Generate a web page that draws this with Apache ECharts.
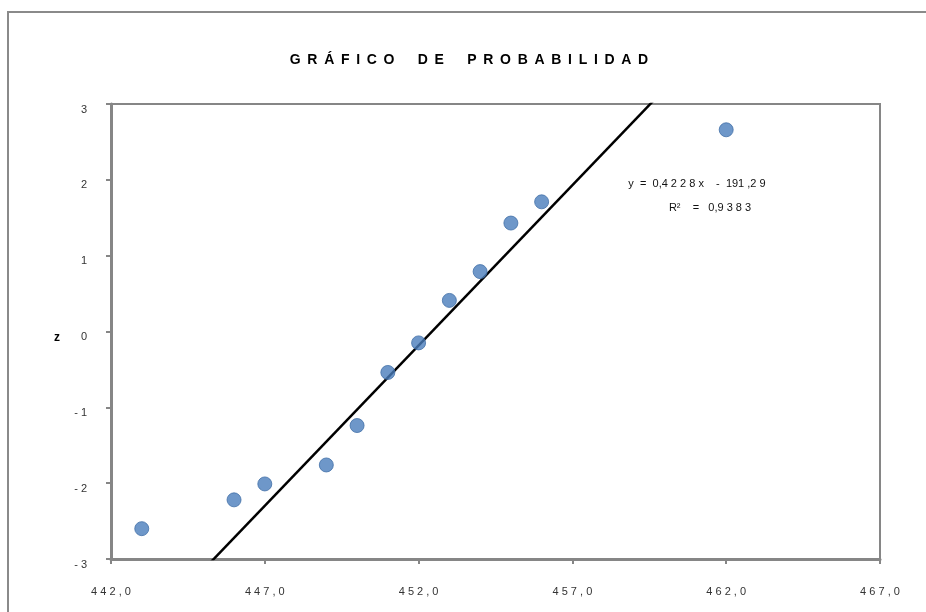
<!DOCTYPE html>
<html>
<head>
<meta charset="utf-8">
<script src="https://cdn.jsdelivr.net/npm/echarts@6/dist/echarts.min.js"></script>
<style>
html,body{margin:0;padding:0;background:#fff;}
#chart{width:926px;height:612px;}
</style>
</head>
<body>
<div id="chart"></div>
<script>
// Data
const xValues = [443.0, 446.0, 447.0, 449.0, 450.0, 451.0, 452.0, 453.0, 454.0, 455.0, 456.0, 462.0];
const zValues = [-2.60, -2.22, -2.01, -1.76, -1.24, -0.54, -0.15, 0.41, 0.79, 1.43, 1.71, 2.66];
const xTickValues = [442, 447, 452, 457, 462, 467];
const xTickLabels = ['4 4 2 , 0', '4 4 7 , 0', '4 5 2 , 0', '4 5 7 , 0', '4 6 2 , 0', '4 6 7 , 0'];
const yTickLabels = {'3': '3', '2': '2', '1': '1', '0': '0', '-1': '- 1', '-2': '- 2', '-3': '- 3'};
const trendSlope = 0.4228;
const trendIntercept = -191.29;
const trendXRange = [443.0, 462.0];

const points = xValues.map((x, i) => [x, zValues[i]]);
const trendData = trendXRange.map(x => [x, trendSlope * x + trendIntercept]);
const labelMap = {};
xTickValues.forEach((v, i) => { labelMap[v] = xTickLabels[i]; });

const chart = echarts.init(document.getElementById('chart'), null, {renderer: 'canvas'});
const axisGray = '#868686';
const font = '"Liberation Sans", "DejaVu Sans", sans-serif';
const sp = ' \u2009';
const titleText = ['GRÁFICO', 'DE', 'PROBABILIDAD'].map(w => w.split('').join(sp)).join('      ');

chart.setOption({
  animation: false,
  backgroundColor: '#ffffff',
  title: {
    text: titleText,
    left: 464,
    top: 48,
    textAlign: 'center',
    textStyle: {fontFamily: font, fontSize: 14, fontWeight: 'bold', color: '#000'}
  },
  grid: {
    left: 111, top: 104, right: 46, bottom: 53,
    show: true, borderColor: axisGray, borderWidth: 2, backgroundColor: 'transparent'
  },
  xAxis: {
    type: 'value',
    min: 442, max: 467,
    axisLine: {show: true, onZero: false, lineStyle: {color: axisGray, width: 3}},
    axisTick: {show: true, length: 5, customValues: xTickValues, lineStyle: {color: axisGray, width: 2}},
    axisLabel: {
      customValues: xTickValues,
      margin: 27,
      fontFamily: font, fontSize: 11, color: '#333',
      formatter: v => labelMap[v] !== undefined ? labelMap[v] : ''
    },
    splitLine: {show: false}
  },
  yAxis: {
    type: 'value',
    min: -3, max: 3, interval: 1,
    name: 'z',
    nameLocation: 'middle',
    nameRotate: 0,
    nameGap: 51,
    nameTextStyle: {fontFamily: font, fontSize: 12, fontWeight: 'bold', color: '#000', verticalAlign: 'top'},
    axisLine: {show: true, onZero: false, lineStyle: {color: axisGray, width: 3}},
    axisTick: {show: true, length: 5, lineStyle: {color: axisGray, width: 2}},
    axisLabel: {
      margin: 24,
      verticalAlign: 'top',
      fontFamily: font, fontSize: 11, color: '#333',
      formatter: v => yTickLabels[String(v)] || String(v)
    },
    splitLine: {show: false}
  },
  series: [
    {
      type: 'line',
      data: trendData,
      showSymbol: false,
      symbol: 'none',
      clip: true,
      lineStyle: {color: '#000', width: 2.5},
      z: 2
    },
    {
      type: 'scatter',
      data: points,
      symbol: 'circle',
      symbolSize: 14,
      itemStyle: {color: '#4a7dbb', borderColor: '#416fa8', borderWidth: 1},
      z: 3
    }
  ],
  graphic: [
    {
      type: 'rect',
      shape: {x: 8, y: 12, width: 940, height: 620},
      style: {fill: 'none', stroke: '#8a8a8a', lineWidth: 2},
      silent: true
    },
    {
      type: 'text',
      x: 697, y: 184,
      style: {text: 'y  =  0,4 2 2 8 x    -  191 ,2 9', fontFamily: font, fontSize: 11, fill: '#111', align: 'center', verticalAlign: 'middle'}
    },
    {
      type: 'text',
      x: 710, y: 208,
      style: {text: 'R²    =   0,9 3 8 3', fontFamily: font, fontSize: 11, fill: '#111', align: 'center', verticalAlign: 'middle'}
    }
  ]
});
</script>
</body>
</html>
